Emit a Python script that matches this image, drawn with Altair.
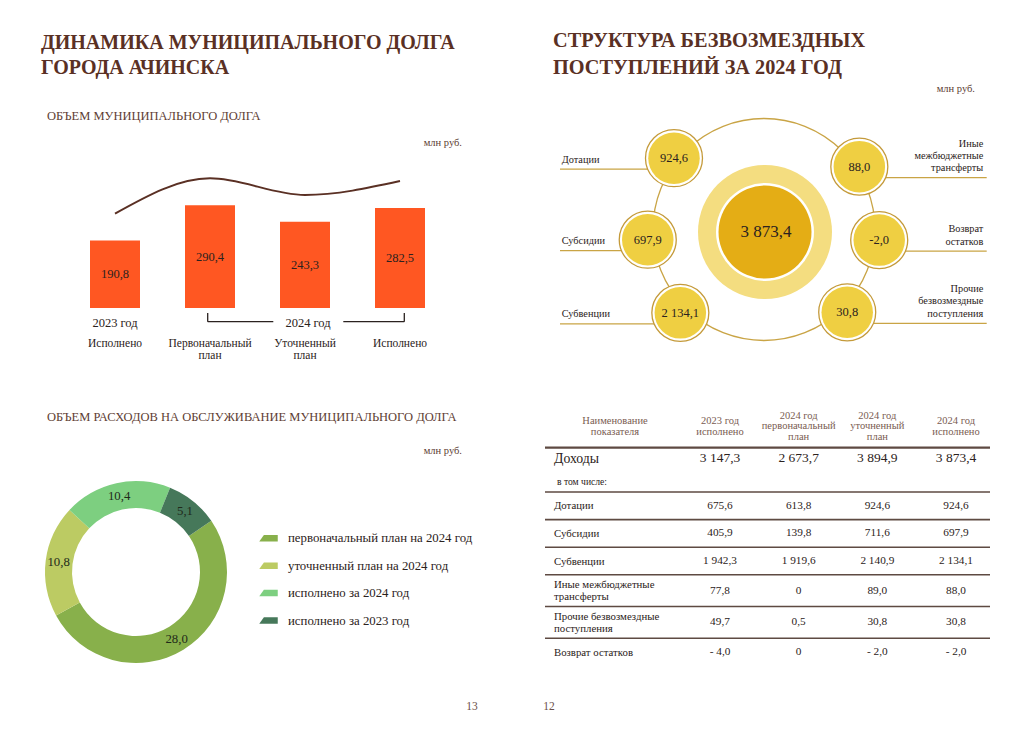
import altair as alt
import pandas as pd
import numpy as np

# ---------------- data ----------------
BAR_YEARS = ["2023 год", "2024 год", "2024 год", "2024 год"]
BAR_LABELS = ["Исполнено", "Первоначальный\nплан", "Уточненный\nплан", "Исполнено"]
BAR_VALUES = [190.8, 290.4, 243.3, 282.5]

DONUT_LABELS = ["первоначальный план на 2024 год", "уточненный план на 2024 год",
                "исполнено за 2024 год", "исполнено за 2023 год"]
DONUT_VALUES = [28.0, 10.8, 10.4, 5.1]
DONUT_ORDER = [1, 2, 3, 0]

BUBBLE_NAMES = ["Дотации", "Субсидии", "Субвенции", "Иные\nмежбюджетные\nтрансферты",
                "Возврат\nостатков", "Прочие\nбезвозмездные\nпоступления"]
BUBBLE_VALUES = [924.6, 697.9, 2134.1, 88.0, -2.0, 30.8]
BUBBLE_SIDE = ["L", "L", "L", "R", "R", "R"]
TOTAL_2024 = 3873.4

TABLE_ROWS = ["Дотации", "Субсидии", "Субвенции", "Иные межбюджетные\nтрансферты",
              "Прочие безвозмездные\nпоступления", "Возврат остатков"]
TABLE_COLS = ["2023 год\nисполнено", "2024 год\nпервоначальный\nплан",
              "2024 год\nуточненный\nплан", "2024 год\nисполнено"]
COL_2023 = [675.6, 405.9, 1942.3, 77.8, 49.7, -4.0]
COL_2024_PLAN = [613.8, 139.8, 1919.6, 0, 0.5, 0]
COL_2024_REV = [924.6, 711.6, 2140.9, 89.0, 30.8, -2.0]
COL_2024_EXEC = [924.6, 697.9, 2134.1, 88.0, 30.8, -2.0]
INCOME = [3147.3, 2673.7, 3894.9, 3873.4]

# ---------------- layout / style ----------------
W, H = 1000, 705
OFF = 8


def px(v):
    return v - OFF


FONT = "Liberation Serif"
BROWN = "#5a3024"
SUB = "#5e3d33"
TXT = "#2b2220"
HEAD = "#7a5c52"
LINE = "#5e4a42"
GOLD = "#c9a445"
BAR = "#ff5722"
DONUT_COLORS = ["#88b04b", "#bccb63", "#7dcf80", "#46785a"]


def ru(v, space_neg=True):
    if v == 0:
        return "0"
    s = f"{abs(v):,.1f}".replace(",", " ").replace(".", ",")
    if v < 0:
        return ("- " if space_neg else "-") + s
    return s


DUMMY = pd.DataFrame({"_": [0]})


def label(text, x, y, size=11, color=TXT, weight="normal", align="left",
          baseline="alphabetic", lh=None):
    kw = dict(align=align, baseline=baseline, font=FONT, fontSize=size,
              fontWeight=weight, color=color, lineBreak="\n")
    if lh:
        kw["lineHeight"] = lh
    return alt.Chart(DUMMY).mark_text(**kw).encode(
        x=alt.value(px(x)), y=alt.value(px(y)), text=alt.value(text))


def hrule(x1, x2, y, color=TXT, width=1.3):
    return alt.Chart(DUMMY).mark_rule(color=color, strokeWidth=width).encode(
        x=alt.value(px(x1)), x2=alt.value(px(x2)), y=alt.value(px(y)))


def vrule(x, y1, y2, color=TXT, width=1.3):
    return alt.Chart(DUMMY).mark_rule(color=color, strokeWidth=width).encode(
        x=alt.value(px(x)), y=alt.value(px(y1)), y2=alt.value(px(y2)))


# ---------------- texts ----------------
texts = [
    label("ДИНАМИКА МУНИЦИПАЛЬНОГО ДОЛГА", 41, 48.5, 20, BROWN, "bold"),
    label("ГОРОДА АЧИНСКА", 41, 74, 20, BROWN, "bold"),
    label("ОБЪЕМ МУНИЦИПАЛЬНОГО ДОЛГА", 47, 120, 12.5, SUB),
    label("млн руб.", 462, 146, 10.5, SUB, align="right"),
    label("ОБЪЕМ РАСХОДОВ НА ОБСЛУЖИВАНИЕ МУНИЦИПАЛЬНОГО ДОЛГА", 47, 420.5, 12.5, SUB),
    label("млн руб.", 462, 454, 10.5, SUB, align="right"),
    label("СТРУКТУРА БЕЗВОЗМЕЗДНЫХ", 553, 47, 20.3, BROWN, "bold"),
    label("ПОСТУПЛЕНИЙ ЗА 2024 ГОД", 553, 73.5, 20.3, BROWN, "bold"),
    label("млн руб.", 975, 92, 10.5, SUB, align="right"),
    label("13", 472, 709.5, 11.5, "#6b5048", align="center"),
    label("12", 549, 709.5, 11.5, "#6b5048", align="center"),
]

# ---------------- bar chart ----------------
bar_df = pd.DataFrame({"year": BAR_YEARS, "label": BAR_LABELS, "value": BAR_VALUES})
bar_df["key"] = bar_df["year"] + " " + bar_df["label"]
bar_df["text"] = [ru(v) for v in BAR_VALUES]

PXU = 0.354  # pixels per million rubles
xb = alt.X("key:N", sort=None, axis=None,
           scale=alt.Scale(range=[px(90), px(425)], paddingInner=0.4737, paddingOuter=0))
ysc = alt.Scale(domain=[0, 400], range=[px(308), px(308) - 400 * PXU], nice=False, zero=True)

bbase = alt.Chart(bar_df)
bars = bbase.mark_bar(color=BAR).encode(x=xb, y=alt.Y("value:Q", scale=ysc, axis=None))
bar_vals = bbase.transform_calculate(mid="datum.value / 2").mark_text(
    font=FONT, fontSize=12.5, color=TXT, baseline="middle").encode(
    x=xb, y=alt.Y("mid:Q", scale=ysc, axis=None), text="text:N")
curve = bbase.transform_calculate(cy="datum.value + 76").mark_line(
    interpolate="monotone", color=BROWN, strokeWidth=2).encode(
    x=xb, y=alt.Y("cy:Q", scale=ysc, axis=None))
cat_labels = bbase.mark_text(font=FONT, fontSize=11.5, color=TXT, lineBreak="\n",
                             lineHeight=12.5, baseline="alphabetic").encode(
    x=xb, y=alt.value(px(346.7)), text="label:N")
year_label = bbase.transform_filter("datum.year == '2023 год'").mark_text(
    font=FONT, fontSize=12.5, color=TXT, baseline="alphabetic").encode(
    x=xb, y=alt.value(px(326.5)), text="year:N")
bar_layer = alt.layer(bars, curve, bar_vals, cat_labels, year_label)

bracket = [
    vrule(207.7, 313, 321.7), hrule(207.7, 273.3, 321.7),
    hrule(343.3, 404.3, 321.7), vrule(404.3, 313, 321.7),
    label("2024 год", 308, 326.5, 12.5, TXT, align="center"),
]

# ---------------- donut ----------------
donut_df = pd.DataFrame({"label": DONUT_LABELS, "value": DONUT_VALUES, "order": DONUT_ORDER})
donut_df["text"] = [ru(v) for v in DONUT_VALUES]
start = np.deg2rad(22)
theta = alt.Theta("value:Q", stack=True, scale=alt.Scale(range=[start, start + 2 * np.pi]))
dcolor = alt.Color(
    "label:N",
    scale=alt.Scale(domain=DONUT_LABELS, range=DONUT_COLORS),
    legend=alt.Legend(
        title=None, orient="none", legendX=px(259), legendY=px(528.8), direction="vertical",
        symbolType="M -1 0.35 L -0.5 -0.35 L 1 -0.35 L 1 0.35 Z", symbolSize=340,
        symbolStrokeWidth=0, labelFont=FONT, labelFontSize=12.8, labelColor=TXT,
        labelOffset=10, rowPadding=10.4, labelLimit=400, padding=0),
)
dbase = alt.Chart(donut_df)
arcs = dbase.mark_arc(innerRadius=64, outerRadius=91).encode(
    theta=theta, color=dcolor, order=alt.Order("order:Q"),
    x=alt.value(px(136)), y=alt.value(px(572)))
arc_txt = dbase.mark_text(radius=78, font=FONT, fontSize=12.8, color="#1f2a1a").encode(
    theta=theta, order=alt.Order("order:Q"), text="text:N",
    x=alt.value(px(136)), y=alt.value(px(572)))
donut_layer = alt.layer(arcs, arc_txt)

# ---------------- bubbles ----------------
BUB_ANGLE = [309.5, 266.2, 225.8, 55.7, 94.0, 133.8]  # layout: angle on the orbit (deg, clockwise from top)
CX, CY, R = px(763.5), px(232), 116
bub_df = pd.DataFrame({"name": BUBBLE_NAMES, "value": BUBBLE_VALUES, "side": BUBBLE_SIDE,
                       "angle": BUB_ANGLE})
bub_df["text"] = [ru(v, space_neg=False) for v in BUBBLE_VALUES]
bub_df["n"] = [s.count("\n") + 1 for s in BUBBLE_NAMES]

bx_sc = alt.Scale(domain=[0, W], range=[0, W], nice=False, zero=False)
by_sc = alt.Scale(domain=[0, H], range=[0, H], nice=False, zero=False)
bbb = alt.Chart(bub_df).transform_calculate(
    bx=f"{CX} + {R} * sin(datum.angle * PI / 180)",
    by=f"{CY} - {R} * cos(datum.angle * PI / 180)",
).transform_calculate(
    uy="datum.by + 11",
    edge=f"datum.side == 'L' ? {px(560)} : {px(986.7)}",
).transform_calculate(
    ly="datum.uy - 6.5 - (datum.n - 1) * 12.3"
)
BX = alt.X("bx:Q", scale=bx_sc, axis=None)
BY = alt.Y("by:Q", scale=by_sc, axis=None)

orbit = alt.Chart(DUMMY).mark_point(shape="circle", size=222 ** 2, filled=False,
                                    stroke=GOLD, strokeWidth=1.3, opacity=1).encode(
    x=alt.value(px(764)), y=alt.value(px(229.5)))
leaders = bbb.mark_rule(color=GOLD, strokeWidth=1.3).encode(
    x=BX, x2="edge:Q", y=alt.Y("uy:Q", scale=by_sc, axis=None))
c_light = alt.Chart(DUMMY).mark_point(shape="circle", size=134 ** 2, filled=True,
                                      color="#f4dd80", opacity=1).encode(
    x=alt.value(px(765)), y=alt.value(px(232)))
c_white = alt.Chart(DUMMY).mark_point(shape="circle", size=98 ** 2, filled=True,
                                      color="#ffffff", opacity=1).encode(
    x=alt.value(px(765)), y=alt.value(px(232)))
c_dark = alt.Chart(DUMMY).mark_point(shape="circle", size=93 ** 2, filled=True,
                                     color="#e4ad15", opacity=1).encode(
    x=alt.value(px(765)), y=alt.value(px(232)))
total_txt = alt.Chart(pd.DataFrame({"total": [ru(TOTAL_2024)]})).mark_text(
    font=FONT, fontSize=17, color=TXT, baseline="middle").encode(
    x=alt.value(px(766)), y=alt.value(px(232)), text="total:N")
b_out = bbb.mark_point(shape="circle", size=57 ** 2, filled=True, fill="white",
                       stroke="#c49a3a", strokeWidth=1.3, opacity=1).encode(x=BX, y=BY)
b_in = bbb.mark_point(shape="circle", size=51.5 ** 2, filled=True, color="#efcf42",
                      opacity=1).encode(x=BX, y=BY)
b_txt = bbb.mark_text(font=FONT, fontSize=12.5, color=TXT, baseline="middle").encode(
    x=BX, y=BY, text="text:N")
b_lab_l = bbb.transform_filter("datum.side == 'L'").mark_text(
    font=FONT, fontSize=10.3, color=TXT, align="left", baseline="alphabetic",
    lineBreak="\n", lineHeight=12.3).encode(
    x=alt.value(px(561.7)), y=alt.Y("ly:Q", scale=by_sc, axis=None), text="name:N")
b_lab_r = bbb.transform_filter("datum.side == 'R'").mark_text(
    font=FONT, fontSize=10.3, color=TXT, align="right", baseline="alphabetic",
    lineBreak="\n", lineHeight=12.3).encode(
    x=alt.value(px(983.3)), y=alt.Y("ly:Q", scale=by_sc, axis=None), text="name:N")
bubble_layer = alt.layer(orbit, leaders, c_light, c_white, c_dark, total_txt,
                         b_out, b_in, b_txt, b_lab_l, b_lab_r)

# ---------------- table ----------------
col_vals = [COL_2023, COL_2024_PLAN, COL_2024_REV, COL_2024_EXEC]
units = [1.15 if "\n" in r else 1.0 for r in TABLE_ROWS]
tops = np.concatenate([[0], np.cumsum(units)[:-1]])
mids = tops + np.array(units) / 2
rows = []
for i, r in enumerate(TABLE_ROWS):
    for j, c in enumerate(TABLE_COLS):
        rows.append({"row": r, "col": c, "v": ru(col_vals[j][i]), "mid": mids[i]})
cell_df = pd.DataFrame(rows)
K = 27.6
TY0 = px(492)
tsc = alt.Scale(domain=[0, sum(units)], range=[TY0, TY0 + sum(units) * K], nice=False, zero=False)
tx = alt.X("col:N", sort=TABLE_COLS, axis=None,
           scale=alt.Scale(type="point", range=[px(720), px(956)], padding=0))

row_df = pd.DataFrame({"row": TABLE_ROWS, "mid": mids,
                       "n": [r.count("\n") + 1 for r in TABLE_ROWS]})
row_df["ly"] = row_df["mid"] + (3.6 - (row_df["n"] - 1) * 6.2) / K
rule_df = pd.DataFrame({"b": tops})
head_df = pd.DataFrame({"col": TABLE_COLS, "n": [c.count("\n") + 1 for c in TABLE_COLS]})
inc_df = pd.DataFrame({"col": TABLE_COLS, "v": [ru(v) for v in INCOME]})

cells = alt.Chart(cell_df).mark_text(font=FONT, fontSize=11.3, color=TXT, baseline="middle").encode(
    x=tx, y=alt.Y("mid:Q", scale=tsc, axis=None), text="v:N")
row_labels = alt.Chart(row_df).mark_text(font=FONT, fontSize=10.8, color=TXT, align="left",
                                         baseline="alphabetic", lineBreak="\n",
                                         lineHeight=12.4).encode(
    x=alt.value(px(554)), y=alt.Y("ly:Q", scale=tsc, axis=None), text="row:N")
row_rules = alt.Chart(rule_df).mark_rule(color=LINE, strokeWidth=1.6).encode(
    x=alt.value(px(545)), x2=alt.value(px(990)), y=alt.Y("b:Q", scale=tsc, axis=None))
head2 = alt.Chart(head_df).transform_filter("datum.n == 2").mark_text(
    font=FONT, fontSize=10.5, color=HEAD, lineBreak="\n", lineHeight=11.5,
    baseline="alphabetic").encode(x=tx, y=alt.value(px(423.7)), text="col:N")
head3 = alt.Chart(head_df).transform_filter("datum.n == 3").mark_text(
    font=FONT, fontSize=10.5, color=HEAD, lineBreak="\n", lineHeight=10.8,
    baseline="alphabetic").encode(x=tx, y=alt.value(px(418.5)), text="col:N")
income = alt.Chart(inc_df).mark_text(font=FONT, fontSize=13.5, color=TXT, baseline="middle").encode(
    x=tx, y=alt.value(px(458.3)), text="v:N")
table_layer = alt.layer(row_rules, cells, row_labels, head2, head3, income)

table_static = [
    label("Наименование\nпоказателя", 615, 423.7, 10.5, HEAD, align="center", lh=11.5),
    hrule(545, 990, 447.7, LINE, 2.2),
    label("Доходы", 554, 462.5, 13.8, TXT),
    label("в том числе:", 557, 484.8, 9.6, TXT),
]

chart = alt.layer(
    *texts, bar_layer, *bracket, donut_layer, bubble_layer, *table_static, table_layer
).resolve_scale(
    x="independent", y="independent", color="independent", theta="independent"
).properties(
    width=W, height=H, padding=0, autosize=alt.AutoSizeParams(type="none")
).configure_view(stroke=None)

chart.save("out.html", embed_options={"renderer": "svg", "actions": False})
